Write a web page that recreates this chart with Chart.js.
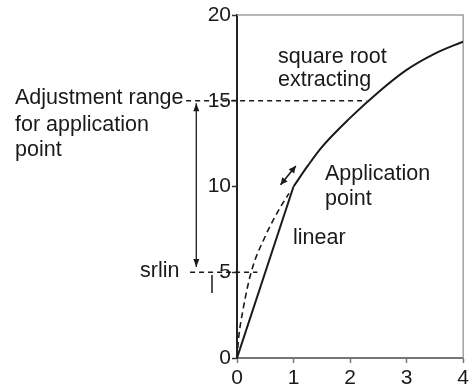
<!DOCTYPE html>
<html>
<head>
<meta charset="utf-8">
<script src="https://cdn.jsdelivr.net/npm/chart.js@4"></script>
<style>
  html, body { margin:0; padding:0; background:#fff; }
  #wrap { width:472px; height:389px; position:relative; }
</style>
</head>
<body>
<div id="wrap"><canvas id="chart"></canvas></div>
<script>
// ---- Data ----
const xTicks = [0, 1, 2, 3, 4];
const yTicks = [0, 5, 10, 15, 20];

// solid: linear part up to the application point
const linearX = [0, 1];
const linearY = [0, 10];

// solid: square root extracting part
const rootX = [1, 1.25, 1.5, 2, 2.5, 3, 3.5, 4];
const rootY = [10, 11.2, 12.3, 14.0, 15.5, 16.8, 17.75, 18.45];

// dashed: root curve below the application point
const dashX = [0, 0.03, 0.1, 0.25, 0.5, 0.75, 0.92];
const dashY = [0, 1.2, 2.7, 5.0, 7.1, 8.7, 9.6];

// adjustment range (y) and srlin level
const adjustRange = [5, 15];
const srlin = 5;

const FONT = '"Liberation Sans", Arial, Helvetica, sans-serif';
const INK = '#1a1a1a';

const pts = (xs, ys) => xs.map((x, i) => ({ x, y: ys[i] }));

// ---- Annotations: frame, dashed guides, arrows, labels ----
function arrowHead(ctx, x1, y1, x2, y2, len, half){
  const a = Math.atan2(y2 - y1, x2 - x1);
  ctx.beginPath();
  ctx.moveTo(x2, y2);
  ctx.lineTo(x2 - len*Math.cos(a) + half*Math.sin(a), y2 - len*Math.sin(a) - half*Math.cos(a));
  ctx.lineTo(x2 - len*Math.cos(a) - half*Math.sin(a), y2 - len*Math.sin(a) + half*Math.cos(a));
  ctx.closePath();
  ctx.fill();
}
function doubleArrow(ctx, x1, y1, x2, y2, len, half){
  ctx.beginPath(); ctx.moveTo(x1, y1); ctx.lineTo(x2, y2); ctx.stroke();
  arrowHead(ctx, x1, y1, x2, y2, len, half);
  arrowHead(ctx, x2, y2, x1, y1, len, half);
}

const annotations = {
  id: 'annotations',
  beforeDatasetsDraw(chart){
    const { ctx, chartArea: a } = chart;
    ctx.save();
    ctx.strokeStyle = '#a0a0a0';
    ctx.lineWidth = 1.5;
    ctx.beginPath();
    ctx.moveTo(a.left, a.top); ctx.lineTo(a.right, a.top); ctx.lineTo(a.right, a.bottom);
    ctx.stroke();
    ctx.restore();
  },
  afterDatasetsDraw(chart){
    const { ctx, scales:{ x, y } } = chart;
    ctx.save();
    ctx.strokeStyle = INK;
    ctx.fillStyle = INK;

    // dashed guides at 15 and srlin
    ctx.lineWidth = 1.3;
    ctx.setLineDash([5, 4]);
    ctx.beginPath();
    ctx.moveTo(x.getPixelForValue(-0.9), y.getPixelForValue(adjustRange[1]));
    ctx.lineTo(x.getPixelForValue(2.29), y.getPixelForValue(adjustRange[1]));
    ctx.moveTo(x.getPixelForValue(-0.83), y.getPixelForValue(srlin));
    ctx.lineTo(x.getPixelForValue(0.36), y.getPixelForValue(srlin));
    ctx.stroke();
    ctx.setLineDash([]);

    // adjustment range arrow
    ctx.lineWidth = 1.3;
    const ax = x.getPixelForValue(-0.72);
    doubleArrow(ctx, ax, y.getPixelForValue(14.85), ax, y.getPixelForValue(5.3), 8, 3);

    // small arrow at application point
    ctx.lineWidth = 1.6;
    doubleArrow(ctx, x.getPixelForValue(0.77), y.getPixelForValue(10.1),
                     x.getPixelForValue(1.04), y.getPixelForValue(11.2), 7, 3.5);

    // little mark under srlin
    ctx.lineWidth = 1.5;
    ctx.beginPath();
    ctx.moveTo(212, 275); ctx.lineTo(212, 293);
    ctx.stroke();

    // texts
    ctx.font = '21.5px ' + FONT;
    ctx.textBaseline = 'middle';
    ctx.textAlign = 'left';
    const texts = [
      ['square root', 278, 57],
      ['extracting', 278, 80],
      ['Application', 325, 174],
      ['point', 325, 199],
      ['linear', 293, 238],
      ['Adjustment range', 15, 98],
      ['for application', 15, 125],
      ['point', 15, 150],
      ['srlin', 140, 271],
    ];
    texts.forEach(([t, tx, ty]) => ctx.fillText(t, tx, ty));
    ctx.restore();
  }
};

// ---- Chart ----
new Chart(document.getElementById('chart'), {
  type: 'scatter',
  data: {
    datasets: [
      { data: pts(linearX, linearY), showLine: true, borderColor: INK, borderWidth: 2, pointRadius: 0, tension: 0 },
      { data: pts(rootX, rootY), showLine: true, borderColor: INK, borderWidth: 2, pointRadius: 0, cubicInterpolationMode: 'monotone' },
      { data: pts(dashX, dashY), showLine: true, borderColor: INK, borderWidth: 1.6, borderDash: [6, 4], pointRadius: 0, cubicInterpolationMode: 'monotone' },
    ]
  },
  options: {
    responsive: true,
    maintainAspectRatio: false,
    animation: false,
    layout: { padding: { top: 15, right: 6, left: 0, bottom: 0 } },
    plugins: { legend: { display: false }, tooltip: { enabled: false } },
    scales: {
      x: {
        type: 'linear', min: 0, max: 4,
        afterBuildTicks: s => { s.ticks = xTicks.map(v => ({ value: v })); },
        afterFit: s => { s.height = 31; },
        ticks: { color: INK, font: { family: FONT, size: 21 }, padding: 3 },
        grid: { drawOnChartArea: false, tickLength: 5, tickColor: '#777', tickWidth: 1.5 },
        border: { color: '#777', width: 2 }
      },
      y: {
        type: 'linear', min: 0, max: 20,
        afterBuildTicks: s => { s.ticks = yTicks.map(v => ({ value: v })); },
        afterFit: s => { s.width = 237; },
        ticks: { color: INK, font: { family: FONT, size: 21 }, padding: 1 },
        grid: { drawOnChartArea: false, tickLength: 5, tickColor: '#333', tickWidth: 1.5 },
        border: { color: '#222', width: 2 }
      }
    }
  },
  plugins: [annotations]
});
</script>
</body>
</html>
